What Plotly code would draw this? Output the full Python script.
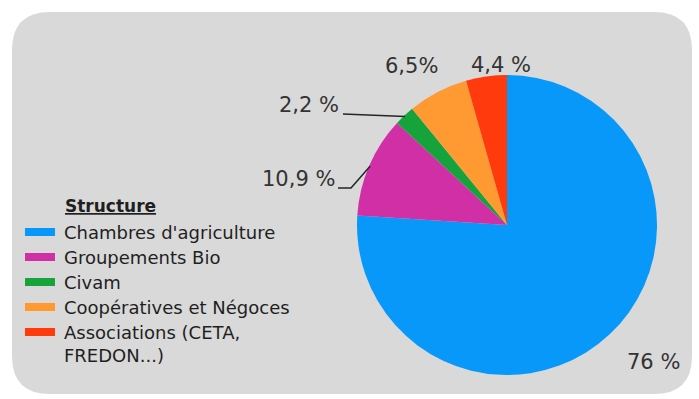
import math
import plotly.graph_objects as go

# Share of advisors by type of structure (%)
categories = [
    "Chambres d'agriculture",
    "Groupements Bio",
    "Civam",
    "Coopératives et Négoces",
    "Associations (CETA,<br>FREDON...)",
]
shares = [76, 10.9, 2.2, 6.5, 4.4]
share_labels = ["76 %", "10,9 %", "2,2 %", "6,5%", "4,4 %"]
colors = ["#0898FA", "#D02FA6", "#17A33B", "#FF9A33", "#FF3A0C"]
legend_title = "Structure"

W, H = 699, 399


def px(x):
    return x / W


def py(y):
    return 1 - y / H


# Pie geometry in pixels
cx, cy, r = 507, 225, 150

fig = go.Figure()
fig.add_trace(go.Pie(
    labels=categories,
    values=shares,
    sort=False,
    direction="clockwise",
    rotation=0,
    marker=dict(colors=colors, line=dict(width=0)),
    textinfo="none",
    hoverinfo="label+percent",
    showlegend=False,
    domain=dict(x=[px(cx - r), px(cx + r)], y=[py(cy + r), py(cy - r)]),
))

shapes = []
annotations = []

# Rounded grey panel behind the chart
L, T, R, B, rad = 12, 12, 692, 394, 38
panel = (
    f"M {px(L + rad)},{py(T)} L {px(R - rad)},{py(T)} "
    f"Q {px(R)},{py(T)} {px(R)},{py(T + rad)} L {px(R)},{py(B - rad)} "
    f"Q {px(R)},{py(B)} {px(R - rad)},{py(B)} L {px(L + rad)},{py(B)} "
    f"Q {px(L)},{py(B)} {px(L)},{py(B - rad)} L {px(L)},{py(T + rad)} "
    f"Q {px(L)},{py(T)} {px(L + rad)},{py(T)} Z"
)
shapes.append(dict(type="path", path=panel, xref="paper", yref="paper",
                   fillcolor="#D9D9D9", line=dict(width=0), layer="below"))

# Mid-angle edge point of each slice (clockwise from 12 o'clock)
total = sum(shares)
edge = []
cum = 0
for v in shares:
    a = math.radians((cum + v / 2) / total * 360)
    edge.append((cx + (r - 1) * math.sin(a), cy - (r - 1) * math.cos(a)))
    cum += v

# Percentage labels
label_pos = [(653, 362), (298, 179), (309, 105), (412, 66), (501, 65)]
for txt, (x, y) in zip(share_labels, label_pos):
    annotations.append(dict(
        x=px(x), y=py(y), xref="paper", yref="paper", text=txt,
        showarrow=False, xanchor="center", yanchor="middle",
        font=dict(family="DejaVu Sans", size=21, color="#333333"),
    ))

# Leader lines for the two small left-hand slices
line_style = dict(color="#262626", width=1.5)
ex, ey = edge[1]
shapes.append(dict(
    type="path", xref="paper", yref="paper", line=line_style,
    path=f"M {px(338)},{py(188)} L {px(351)},{py(188)} L {px(ex)},{py(ey)}",
))
ex, ey = edge[2]
shapes.append(dict(
    type="path", xref="paper", yref="paper", line=line_style,
    path=f"M {px(343)},{py(114)} L {px(ex)},{py(ey)}",
))

# Legend: title, colour bars and category names
annotations.append(dict(
    x=px(63), y=py(206), xref="paper", yref="paper",
    text=f"<b><u>{legend_title}</u></b>", showarrow=False,
    xanchor="left", yanchor="middle",
    font=dict(family="DejaVu Sans", size=17, color="#1F1F1F"),
))
row0, step = 232, 25
for i, (name, col) in enumerate(zip(categories, colors)):
    yc = row0 + step * i
    shapes.append(dict(
        type="rect", xref="paper", yref="paper",
        x0=px(25), x1=px(55), y0=py(yc - 4), y1=py(yc + 4),
        fillcolor=col, line=dict(width=0),
    ))
    annotations.append(dict(
        x=px(62), y=py(yc - 12), xref="paper", yref="paper", text=name,
        showarrow=False, xanchor="left", yanchor="top", align="left",
        font=dict(family="DejaVu Sans", size=18, color="#1F1F1F"),
    ))

fig.update_layout(
    width=W, height=H,
    margin=dict(l=0, r=0, t=0, b=0),
    paper_bgcolor="white",
    plot_bgcolor="white",
    shapes=shapes,
    annotations=annotations,
)

fig.write_html("out.html")
